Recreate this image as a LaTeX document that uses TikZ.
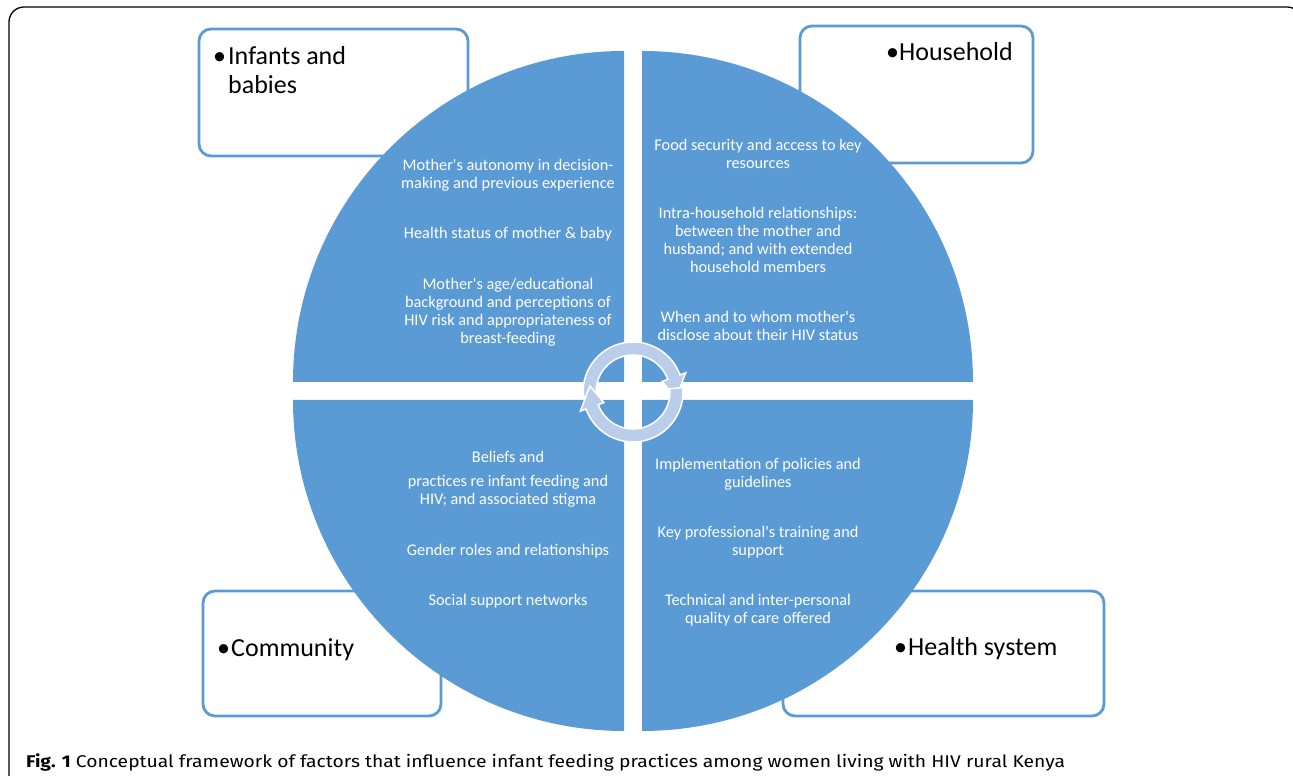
\documentclass[tikz,border=0pt]{standalone}
\usepackage{fontspec}
\setmainfont{Carlito}
\newfontfamily\capfont[FakeStretch=1.135]{Fira Sans}
\usetikzlibrary{positioning}
\definecolor{quadblue}{RGB}{91,155,213}
\definecolor{hubblue}{RGB}{186,205,235}
\newcommand{\apos}{\textquotesingle}

\begin{document}
\begin{tikzpicture}[x=1pt, y=1pt,
    box/.style={draw=quadblue, line width=2.8pt, rounded corners=12pt, fill=white, inner sep=0pt},
    boxlabel/.style={anchor=base west, font=\fontsize{26}{29}\selectfont, align=left, inner sep=0pt},
    factor/.style={text=white, font=\fontsize{16.3}{18}\selectfont, align=center, inner sep=0pt},
    quad/.style={fill=quadblue},
    hubarrow/.style={fill=hubblue, draw=white, line width=1.5pt}]
    \useasboundingbox (0,0) rectangle (1293,776);
    \draw[line width=1.3pt, rounded corners=15pt] (9,-30) rectangle (1302,769);

    % the four boxes
    \node[box, minimum width=269pt, minimum height=127pt] (infantsbox)   at (333.5,683.5) {};
    \node[box, minimum width=233pt, minimum height=137pt] (householdbox) at (916.5,681.5) {};
    \node[box, minimum width=238pt, minimum height=125pt] (communitybox) at (322,122.5)   {};
    \node[box, minimum width=321pt, minimum height=125pt] (healthbox)    at (943.5,122.5) {};

    % quadrants of the circle
    \fill[quad] (624,394) -- (293,394) arc[start angle=180, end angle=90, radius=331] -- cycle;
    \fill[quad] (642,394) -- (642,725) arc[start angle=90, end angle=0, radius=331] -- cycle;
    \fill[quad] (624,376) -- (624,45) arc[start angle=270, end angle=180, radius=331] -- cycle;
    \fill[quad] (642,376) -- (973,376) arc[start angle=0, end angle=-90, radius=331] -- cycle;

    % cycle in the middle
    \coordinate (hub) at (633,384);
    \foreach \turn in {0,180}
        \path[hubarrow, shift={(hub)}, rotate=\turn]
            (185:50) arc[start angle=185, end angle=20, radius=50] -- (20:56) -- (-8:43.5)
            -- (20:31) -- (20:37) arc[start angle=20, end angle=185, radius=37] -- cycle;

    \node[boxlabel] (infants)   at (213,682) {\makebox[15pt][l]{\textbullet}Infants and\\\hspace*{15pt}babies};
    \node[boxlabel] (household) at (886,715) {\makebox[13pt][l]{\textbullet}Household};
    \node[boxlabel] (community) at (217,119) {\makebox[14pt][l]{\textbullet}Community};
    \node[boxlabel] (health)    at (894,120) {\makebox[14pt][l]{\textbullet}Health system};

    \node[factor] (autonomy)  at (508,601) {Mother\apos s autonomy in decision-\\making and previous experience};
    \node[factor] (status)    at (508,542) {Health status of mother \& baby};
    \node[factor] (age)       at (508,464) {Mother\apos s age/educational\\background and perceptions of\\HIV risk and appropriateness of\\breast-feeding};

    \node[factor] (food)      at (758,622) {Food security and access to key\\resources};
    \node[factor] (intra)     at (758,536) {Intra-household relationships:\\between the mother and\\husband; and with extended\\household members};
    \node[factor] (disclose)  at (758,450) {When and to whom mother\apos s\\disclose about their HIV status};

    \node[factor] (beliefs)   at (508,319) {Beliefs and};
    \node[factor] (practices) at (508,285) {practices re infant feeding and\\HIV; and associated stigma};
    \node[factor] (gender)    at (508,225) {Gender roles and relationships};
    \node[factor] (social)    at (508,175) {Social support networks};

    \node[factor] (policies)  at (758,302) {Implementation of policies and\\guidelines};
    \node[factor] (training)  at (758,234) {Key professional\apos s training and\\support};
    \node[factor] (quality)   at (758,166) {Technical and inter-personal\\quality of care offered};

    \node[anchor=base west, inner sep=0pt, font=\capfont\fontsize{17}{20}\selectfont] (caption) at (26,8)
        {\textbf{Fig. 1} Conceptual framework of factors that influence infant feeding practices among women living with HIV rural Kenya};
\end{tikzpicture}
\end{document}
